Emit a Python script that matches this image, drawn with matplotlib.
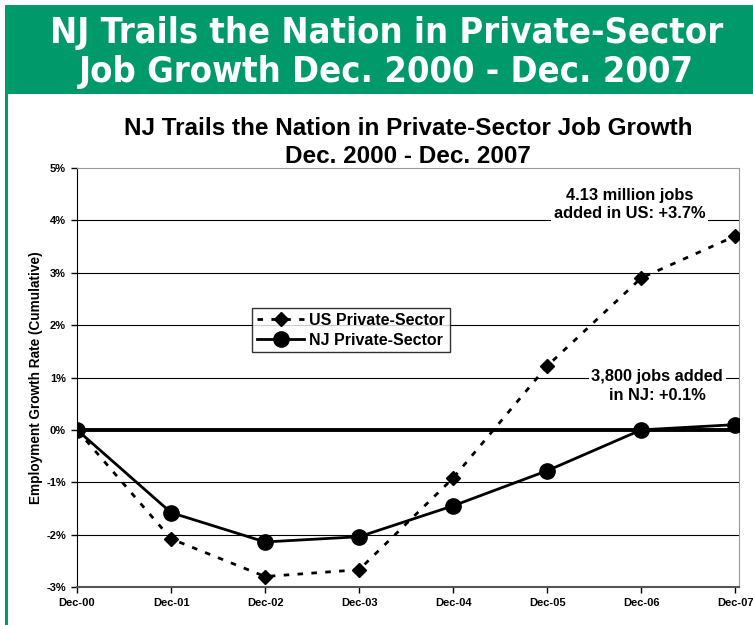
import matplotlib
matplotlib.use('Agg')
import matplotlib.pyplot as plt
from matplotlib.patches import Rectangle
from matplotlib.lines import Line2D
from matplotlib.ticker import FuncFormatter

plt.rcParams['font.family'] = ['Liberation Sans', 'DejaVu Sans']

# 데이터
years = ['Dec-00', 'Dec-01', 'Dec-02', 'Dec-03', 'Dec-04', 'Dec-05', 'Dec-06', 'Dec-07']
us_growth = [0.0, -2.08, -2.80, -2.67, -0.92, 1.22, 2.90, 3.70]
nj_growth = [0.0, -1.58, -2.14, -2.04, -1.45, -0.78, 0.0, 0.10]
y_ticks = [-3, -2, -1, 0, 1, 2, 3, 4, 5]

green = '#009a6a'

fig = plt.figure(figsize=(7.53, 6.25), dpi=100)

# 상단 초록 배너
fig.patches.append(Rectangle((5 / 753, 1 - 94 / 625), 1, 89 / 625, transform=fig.transFigure,
                             facecolor=green, edgecolor='none', zorder=0))
fig.patches.append(Rectangle((5 / 753, 0), 3 / 753, 1 - 94 / 625, transform=fig.transFigure,
                             facecolor=green, edgecolor='none', zorder=0))
banner_font = dict(ha='center', va='center', color='white', fontsize=26, fontweight='bold',
                   family=['DejaVu Sans'], fontstretch='condensed')
fig.text(0.513, 1 - 33 / 625, 'NJ Trails the Nation in Private-Sector', **banner_font)
fig.text(0.513, 1 - 72 / 625, 'Job Growth Dec. 2000 - Dec. 2007', **banner_font)

ax = fig.add_axes([77 / 753, 1 - 587 / 625, (739 - 77) / 753, (587 - 168) / 625])

x = list(range(len(years)))

# 그리드 라인
for t in y_ticks[1:-1]:
    if t == 0:
        ax.axhline(t, color='black', lw=2.8, zorder=2)
    else:
        ax.axhline(t, color='black', lw=0.8, zorder=1)

ax.plot(x, us_growth, color='black', lw=2, linestyle=(0, (2, 3)), marker='D',
        markersize=7, zorder=4, label='US Private-Sector')
ax.plot(x, nj_growth, color='black', lw=2, marker='o', markersize=11, zorder=5,
        label='NJ Private-Sector')

ax.set_xlim(0, 7.04)
ax.set_ylim(-3, 5)
ax.set_xticks(x)
ax.set_xticklabels(years, fontsize=8, fontweight='bold')
ax.set_yticks(y_ticks)
ax.yaxis.set_major_formatter(FuncFormatter(lambda v, p: '%d%%' % v))
for lab in ax.get_yticklabels():
    lab.set_fontweight('bold')
    lab.set_fontsize(8)
ax.tick_params(axis='both', direction='out', length=4, width=1, pad=4)

ax.spines['left'].set_color('black')
ax.spines['bottom'].set_color('#555555')
ax.spines['bottom'].set_linewidth(1.5)
ax.spines['top'].set_color('#999999')
ax.spines['right'].set_color('#999999')

ax.set_ylabel('Employment Growth Rate (Cumulative)', fontsize=9.8, fontweight='bold', labelpad=2)

ax.set_title('NJ Trails the Nation in Private-Sector Job Growth\nDec. 2000 - Dec. 2007',
             fontsize=17.5, fontweight='bold', pad=3, linespacing=1.3)

# 주석
ax.text(5.88, 4.3, '4.13 million jobs\nadded in US: +3.7%', ha='center', va='center',
        fontsize=11.8, fontweight='bold', linespacing=1.3, zorder=6,
        bbox=dict(facecolor='white', edgecolor='none', pad=2))
ax.text(6.17, 0.84, '3,800 jobs added\nin NJ: +0.1%', ha='center', va='center',
        fontsize=11.8, fontweight='bold', linespacing=1.3, zorder=6,
        bbox=dict(facecolor='white', edgecolor='none', pad=2))

handles = [Line2D([], [], color='black', lw=2, linestyle=(0, (2, 3)), marker='D', markersize=7),
           Line2D([], [], color='black', lw=2, marker='o', markersize=11)]
leg = ax.legend(handles, ['US Private-Sector', 'NJ Private-Sector'], loc='upper left',
                bbox_to_anchor=(0.264, 0.666), borderaxespad=0, frameon=True, fancybox=False,
                prop={'weight': 'bold', 'size': 11.5}, handlelength=3.0, borderpad=0.3,
                labelspacing=0.3, handletextpad=0.3)
leg.get_frame().set_edgecolor('black')
leg.get_frame().set_linewidth(1)
leg.set_zorder(7)

plt.savefig('out.png', dpi=100)
